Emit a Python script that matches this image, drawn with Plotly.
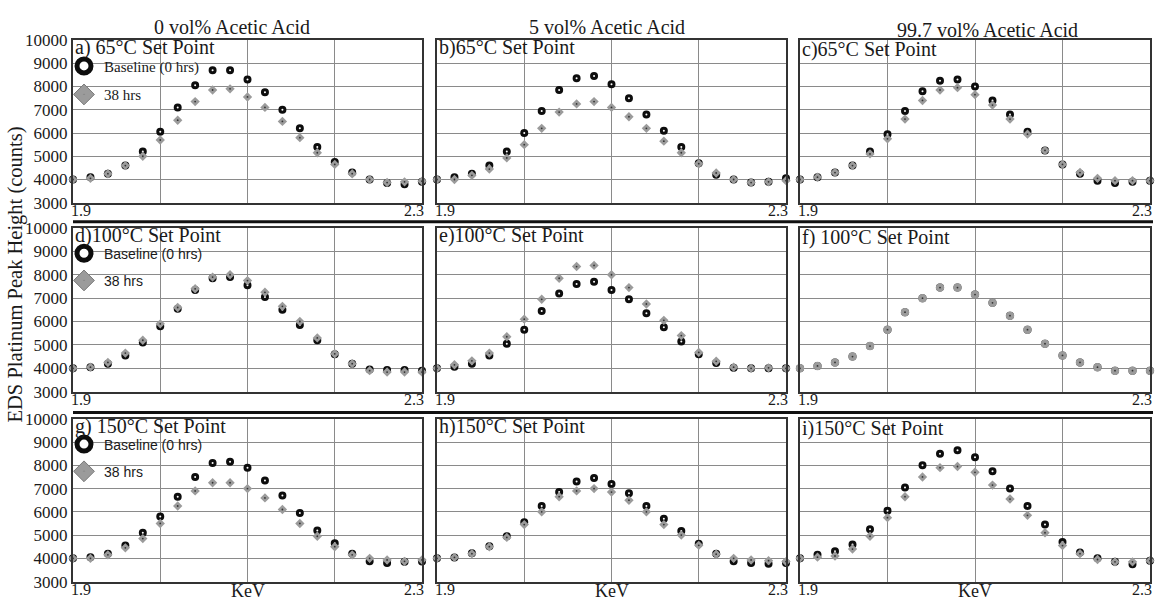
import plotly.graph_objects as go

# ---------------- data ----------------
kev = [1.90, 1.92, 1.94, 1.96, 1.98, 2.00, 2.02, 2.04, 2.06, 2.08, 2.10,
       2.12, 2.14, 2.16, 2.18, 2.20, 2.22, 2.24, 2.26, 2.28, 2.30]

col_titles = ["0 vol% Acetic Acid", "5 vol% Acetic Acid", "99.7 vol% Acetic Acid"]
panel_labels = ["a) 65°C Set Point", "b)65°C Set Point", "c)65°C Set Point",
                "d)100°C Set Point", "e)100°C Set Point", "f) 100°C Set Point",
                "g) 150°C Set Point", "h)150°C Set Point", "i)150°C Set Point"]
series_names = ["Baseline (0 hrs)", "38 hrs"]
y_ticks = [3000, 4000, 5000, 6000, 7000, 8000, 9000, 10000]
y_tick_text = ["3000", "4000", "5000", "6000", "7000", "8000", "9000", "10000"]
x_edge_labels = ["1.9", "2.3"]
x_title = "KeV"
y_title = "EDS Platinum Peak Height (counts)"

a_base = [4000, 4100, 4250, 4600, 5200, 6050, 7100, 8050, 8700, 8700, 8300,
          7750, 7000, 6200, 5400, 4750, 4300, 4000, 3850, 3800, 3900]
a_38 = [4000, 4050, 4250, 4600, 5000, 5700, 6550, 7350, 7850, 7900, 7550,
        7100, 6500, 5800, 5150, 4650, 4250, 4000, 3870, 3900, 3930]

b_base = [4000, 4100, 4250, 4600, 5200, 6000, 6950, 7850, 8350, 8450, 8100,
          7500, 6800, 6100, 5400, 4700, 4200, 4000, 3870, 3900, 4050]
b_38 = [4000, 4000, 4180, 4450, 4930, 5500, 6200, 6900, 7250, 7350, 7100,
        6700, 6200, 5650, 5150, 4680, 4280, 4000, 3870, 3900, 3950]

c_base = [4000, 4100, 4300, 4600, 5200, 5950, 6950, 7800, 8250, 8300, 8000,
          7400, 6800, 6050, 5250, 4650, 4250, 3950, 3850, 3900, 3950]
c_38 = [4000, 4100, 4300, 4600, 5100, 5750, 6600, 7400, 7850, 7950, 7650,
        7200, 6600, 5950, 5250, 4650, 4300, 4050, 3950, 3950, 3950]

d_base = [4000, 4050, 4200, 4550, 5100, 5800, 6550, 7350, 7850, 7900, 7550,
          7050, 6500, 5850, 5200, 4600, 4200, 3950, 3930, 3930, 3900]
d_38 = [4000, 4050, 4250, 4650, 5200, 5900, 6600, 7400, 7900, 8000, 7750,
        7250, 6650, 6000, 5300, 4620, 4200, 3900, 3840, 3840, 3840]

e_base = [4000, 4070, 4200, 4550, 5050, 5650, 6450, 7200, 7600, 7700, 7350,
          6950, 6350, 5750, 5150, 4600, 4230, 4020, 4000, 4000, 4000]
e_38 = [4000, 4150, 4320, 4650, 5350, 6100, 6950, 7850, 8350, 8400, 8000,
        7450, 6750, 6050, 5400, 4680, 4300, 4050, 4000, 4020, 4000]

f_base = [4000, 4100, 4250, 4500, 4950, 5650, 6400, 7000, 7450, 7450, 7150,
          6800, 6250, 5650, 5050, 4550, 4250, 4050, 3900, 3900, 3900]
f_38 = [4000, 4100, 4250, 4500, 4950, 5650, 6400, 7000, 7450, 7450, 7150,
        6800, 6250, 5650, 5050, 4550, 4250, 4050, 3900, 3900, 3900]

g_base = [4000, 4050, 4200, 4550, 5100, 5800, 6650, 7500, 8100, 8150, 7900,
          7350, 6700, 5950, 5200, 4650, 4200, 3880, 3800, 3850, 3860]
g_38 = [4000, 4000, 4150, 4450, 4850, 5500, 6250, 6900, 7250, 7250, 7000,
        6600, 6100, 5500, 4950, 4500, 4150, 4000, 3930, 3870, 3930]

h_base = [4000, 4040, 4220, 4520, 4950, 5550, 6250, 6850, 7300, 7450, 7200,
          6800, 6250, 5700, 5180, 4630, 4200, 3880, 3800, 3770, 3800]
h_38 = [4000, 4040, 4200, 4500, 4900, 5450, 6000, 6650, 6900, 7000, 6850,
        6500, 6000, 5450, 5000, 4560, 4180, 4000, 3930, 3900, 3860]

i_base = [4000, 4150, 4300, 4600, 5250, 6050, 7050, 8000, 8500, 8650, 8350,
          7750, 7000, 6250, 5450, 4700, 4250, 4000, 3850, 3750, 3900]
i_38 = [4000, 4050, 4100, 4400, 4950, 5750, 6650, 7500, 7900, 7950, 7700,
        7150, 6550, 5850, 5100, 4550, 4200, 3950, 3850, 3850, 3900]

panels = [(a_base, a_38), (b_base, b_38), (c_base, c_38),
          (d_base, d_38), (e_base, e_38), (f_base, f_38),
          (g_base, g_38), (h_base, h_38), (i_base, i_38)]

# ---------------- layout geometry (pixels) ----------------
W, H = 1156, 610
col_px = [(73, 422), (437, 786), (800, 1150)]
row_px = [(32, 200), (226, 395), (423, 591)]

SERIF = "Liberation Serif, Times New Roman, serif"
SANS = "Liberation Sans, Arial, sans-serif"
TXT = "#1a1a1a"
RING = "#0d0d0d"
GRAY = "#9b9b9b"


def px_x(p):
    return p / W


def px_y(p):
    return 1 - p / H


fig = go.Figure()
layout = dict(width=W, height=H, margin=dict(l=0, r=0, t=0, b=0),
              paper_bgcolor="white", plot_bgcolor="white", showlegend=True)
annotations = []

for k, (base, later) in enumerate(panels):
    r, c = divmod(k, 3)
    n = k + 1
    xa = "x" if n == 1 else f"x{n}"
    ya = "y" if n == 1 else f"y{n}"
    xkey = "xaxis" if n == 1 else f"xaxis{n}"
    ykey = "yaxis" if n == 1 else f"yaxis{n}"
    x0, x1 = col_px[c]
    yt, yb = row_px[r]
    layout[xkey] = dict(domain=[px_x(x0), px_x(x1)], anchor=ya, range=[1.9, 2.3],
                        tickvals=[2.0, 2.1, 2.2], showticklabels=False, ticks="",
                        showgrid=True, gridcolor="#8a8a8a", gridwidth=1,
                        showline=True, linecolor="#333333", linewidth=2, mirror=True,
                        zeroline=False, fixedrange=True)
    layout[ykey] = dict(domain=[px_y(yb), px_y(yt)], anchor=xa, range=[3000, 10000],
                        tickvals=y_ticks, ticktext=y_tick_text,
                        showticklabels=(c == 0), ticks="",
                        tickfont=dict(family=SERIF, size=17, color=TXT),
                        showgrid=True, gridcolor="#8a8a8a", gridwidth=1,
                        showline=True, linecolor="#333333", linewidth=2, mirror=True,
                        zeroline=False, fixedrange=True)

    fig.add_trace(go.Scatter(x=kev, y=base, mode="markers", xaxis=xa, yaxis=ya,
                             name=series_names[0], showlegend=False, cliponaxis=False,
                             marker=dict(symbol="circle", size=5, color="white",
                                         line=dict(color=RING, width=3))))
    sym = "circle" if k == 5 else "diamond"
    size = 8.5 if k == 5 else 7.2
    fig.add_trace(go.Scatter(x=kev, y=later, mode="markers", xaxis=xa, yaxis=ya,
                             name=series_names[1], showlegend=False, cliponaxis=False,
                             marker=dict(symbol=sym, size=size, color=GRAY,
                                         line=dict(width=0))))
    fig.add_trace(go.Scatter(x=kev, y=later, mode="markers", xaxis=xa, yaxis=ya,
                             name=series_names[1], showlegend=False, cliponaxis=False,
                             hoverinfo="skip",
                             marker=dict(symbol="circle", size=1.8, color="#333333",
                                         line=dict(width=0))))

    # panel label
    annotations.append(dict(text=panel_labels[k], xref=f"{xa} domain", yref=f"{ya} domain",
                            x=0, y=1, xanchor="left", yanchor="top", xshift=1,
                            yshift=5 if c < 2 else 3, borderpad=0,
                            showarrow=False, font=dict(family=SERIF, size=20, color=TXT)))
    # x edge labels
    annotations.append(dict(text=x_edge_labels[0], xref=xa, yref=f"{ya} domain",
                            x=1.9, y=0, xanchor="left", yanchor="top", xshift=-3, yshift=2,
                            borderpad=0,
                            showarrow=False, font=dict(family=SERIF, size=16, color=TXT)))
    annotations.append(dict(text=x_edge_labels[1], xref=xa, yref=f"{ya} domain",
                            x=2.3, y=0, xanchor="right", yanchor="top", xshift=3, yshift=2,
                            borderpad=0,
                            showarrow=False, font=dict(family=SERIF, size=16, color=TXT)))

    # legend entries for column 1
    if c == 0:
        leg = "legend" if r == 0 else f"legend{r + 1}"
        fig.add_trace(go.Scatter(x=[None], y=[None], mode="markers", xaxis=xa, yaxis=ya,
                                 name=series_names[0], legend=leg, legendgroup=f"b{k}",
                                 marker=dict(symbol="circle", size=14, color="white",
                                             line=dict(color=RING, width=5))))
        fig.add_trace(go.Scatter(x=[None], y=[None], mode="markers", xaxis=xa, yaxis=ya,
                                 name=series_names[1], legend=leg, legendgroup=f"t{k}",
                                 marker=dict(symbol="diamond-dot", size=16, color=GRAY,
                                             line=dict(color="#7a7a7a", width=1))))
        lfont = dict(family=SERIF if r == 0 else SANS, size=15 if r == 0 else 14, color=TXT)
        layout[leg] = dict(x=px_x(64), y=px_y(yt + 10), xanchor="left", yanchor="top",
                           bgcolor="rgba(0,0,0,0)", borderwidth=0, font=lfont,
                           traceorder="grouped", tracegroupgap=6, itemclick=False,
                           itemdoubleclick=False)

# column titles
for c, (title, cx, cy) in enumerate(zip(col_titles, [232, 607, 987], [19, 19, 22])):
    annotations.append(dict(text=title, xref="paper", yref="paper", x=px_x(cx), y=px_y(cy),
                            xanchor="center", yanchor="middle", showarrow=False, borderpad=0,
                            font=dict(family=SERIF, size=20, color=TXT)))
# x titles
for c in range(3):
    cx = (col_px[c][0] + col_px[c][1]) / 2
    annotations.append(dict(text=x_title, xref="paper", yref="paper", x=px_x(cx), y=px_y(601),
                            xanchor="center", yanchor="middle", showarrow=False, borderpad=0,
                            font=dict(family=SERIF, size=18, color=TXT)))
# y title
annotations.append(dict(text=y_title, xref="paper", yref="paper", x=px_x(15), y=px_y(274),
                        xanchor="center", yanchor="middle", textangle=-90, showarrow=False,
                        borderpad=0, font=dict(family=SERIF, size=20.5, color=TXT)))

# row separators
shapes = []
for sy in [219.5, 416.5]:
    shapes.append(dict(type="line", xref="paper", yref="paper", x0=px_x(73), x1=px_x(1153),
                       y0=px_y(sy), y1=px_y(sy), line=dict(color="#111111", width=3)))

layout["annotations"] = annotations
layout["shapes"] = shapes
fig.update_layout(**layout)

fig.write_html("out.html", config={"displayModeBar": False},
               post_script="document.body.style.margin='0px';document.body.style.overflow='hidden';")
